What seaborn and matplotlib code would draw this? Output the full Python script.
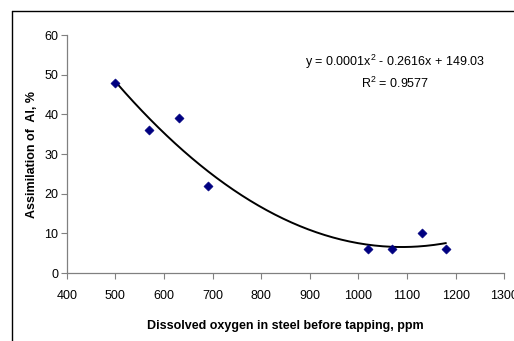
import numpy as np
import pandas as pd
import matplotlib
matplotlib.use("Agg")
import matplotlib.pyplot as plt
from matplotlib.lines import Line2D
import seaborn as sns

# measured points
oxygen = [500, 570, 630, 690, 1020, 1070, 1130, 1180]
assimilation = [48, 36, 39, 22, 6, 6, 10, 6]

x_ticks = [400, 500, 600, 700, 800, 900, 1000, 1100, 1200, 1300]
y_ticks = [0, 10, 20, 30, 40, 50, 60]

eq_text = "y = 0.0001x$^2$ - 0.2616x + 149.03"
r2_text = "R$^2$ = 0.9577"

sns.set_style("ticks")
plt.rcParams['font.family'] = ['Liberation Sans', 'DejaVu Sans']
plt.rcParams['mathtext.fontset'] = 'custom'
plt.rcParams['mathtext.rm'] = 'Liberation Sans'
plt.rcParams['text.color'] = 'black'
plt.rcParams['axes.labelcolor'] = 'black'
plt.rcParams['xtick.labelcolor'] = 'black'
plt.rcParams['ytick.labelcolor'] = 'black'

df = pd.DataFrame({'oxygen': oxygen, 'assim': assimilation})

# 2nd order trendline through the points
coef = np.polyfit(df['oxygen'], df['assim'], 2)
xs = np.linspace(min(oxygen), max(oxygen), 200)
fit = pd.DataFrame({'oxygen': xs, 'assim': np.polyval(coef, xs)})

fig = plt.figure(figsize=(5.14, 3.41), dpi=100)
ax = fig.add_axes([0.130, 0.199, 0.851, 0.698])

sns.lineplot(data=fit, x='oxygen', y='assim', ax=ax, color='black', lw=1.4)
sns.scatterplot(data=df, x='oxygen', y='assim', ax=ax, marker='D', s=22,
                color='#000080', edgecolor='#000080', zorder=3)

ax.set_xlim(400, 1300)
ax.set_ylim(0, 60)
ax.set_xticks(x_ticks)
ax.set_yticks(y_ticks)
ax.tick_params(axis='both', labelsize=9, length=4, width=0.8, color='#808080',
               pad=2, direction='out')
ax.tick_params(axis='x', pad=8)
for side in ['left', 'bottom']:
    ax.spines[side].set_color('#808080')
    ax.spines[side].set_linewidth(0.9)
ax.spines['top'].set_visible(False)
ax.spines['right'].set_visible(False)

ax.set_xlabel('Dissolved oxygen in steel before tapping, ppm', fontsize=9,
              fontweight='bold', labelpad=13)
ax.set_ylabel('Assimilation of  Al, %', fontsize=9, fontweight='bold', labelpad=5)

ax.text(1075, 53.2, eq_text, fontsize=9, ha='center', va='center')
ax.text(1075, 47.9, r2_text, fontsize=9, ha='center', va='center')

# outer chart frame
fig.add_artist(Line2D([11.5 / 514, 11.5 / 514], [0, 1 - 10.5 / 341],
                      transform=fig.transFigure, color='black', lw=1))
fig.add_artist(Line2D([11.5 / 514, 1], [1 - 10.5 / 341, 1 - 10.5 / 341],
                      transform=fig.transFigure, color='black', lw=1))

fig.savefig('out.png', dpi=100, facecolor='white')
